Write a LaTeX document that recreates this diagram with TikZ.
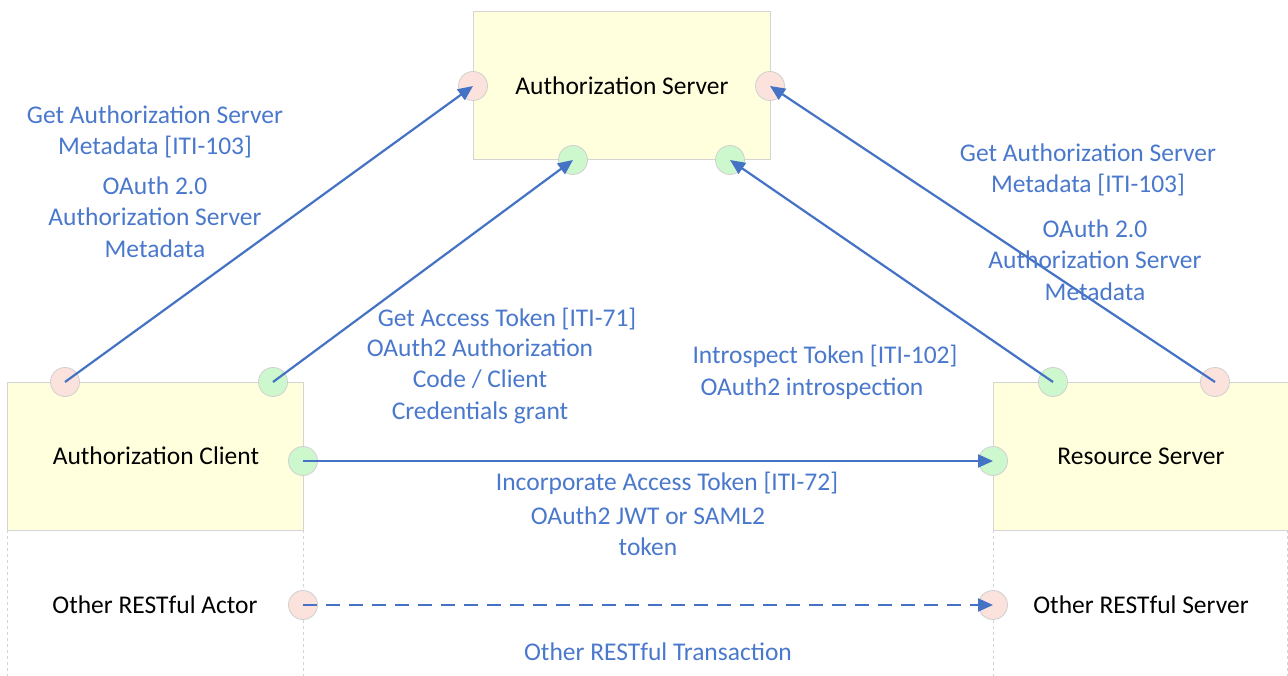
\documentclass[tikz,border=0pt]{standalone}
\usepackage{fontspec}
\setmainfont{Carlito}
\usetikzlibrary{arrows.meta}
\definecolor{boxfill}{HTML}{FFFFDD}
\definecolor{boxline}{HTML}{D4D4D4}
\definecolor{pinkport}{HTML}{FBE2DC}
\definecolor{greenport}{HTML}{CDF7CD}
\definecolor{portline}{HTML}{D0D0D0}
\definecolor{flow}{HTML}{4472C4}
\definecolor{labelblue}{HTML}{4A78CC}
\tikzset{
  actorbox/.style={draw=boxline, fill=boxfill, line width=1pt, inner sep=0pt},
  port/.style={circle, draw=portline, line width=0.8pt, minimum size=29pt, inner sep=0pt},
  pinkp/.style={port, fill=pinkport},
  greenp/.style={port, fill=greenport},
  flowarrow/.style={draw=flow, line width=2.2pt, -{Triangle[length=15pt,width=13pt]}},
  lbl/.style={text=labelblue, align=center, font=\fontsize{25.5}{31.5}\selectfont, inner sep=0pt},
  actorname/.style={text=black, align=center, font=\fontsize{25.5}{31.5}\selectfont, inner sep=0pt},
  lifeline/.style={draw=boxline, dashed, line width=0.8pt}
}
\begin{document}
\begin{tikzpicture}[x=1pt,y=-1pt]
\useasboundingbox (0,0) rectangle (1288,676);
% lifelines
\draw[lifeline] (7,530) -- (7,676);
\draw[lifeline] (303,530) -- (303,676);
\draw[lifeline] (993,530) -- (993,676);
\draw[lifeline] (1287,530) -- (1287,676);
% boxes
\draw[actorbox] (473,12) rectangle (770,160);
\draw[actorbox] (7,382) rectangle (303,530);
\draw[actorbox] (993,382) rectangle (1288,530);
\node[actorname] (as) at (622,86) {Authorization Server};
\node[actorname] (ac) at (156,456) {Authorization Client};
\node[actorname] (rs) at (1141,456) {Resource Server};
\node[actorname] (oa) at (155,605) {Other RESTful Actor};
\node[actorname] (os) at (1141,605) {Other RESTful Server};
% ports
\node[pinkp] (asL) at (473,86) {};
\node[pinkp] (asR) at (770,86) {};
\node[greenp] (asG1) at (573,160) {};
\node[greenp] (asG2) at (730,160) {};
\node[pinkp] (acP) at (65,382) {};
\node[greenp] (acG) at (273,382) {};
\node[greenp] (acR) at (303,461) {};
\node[greenp] (rsG) at (1053,382) {};
\node[pinkp] (rsP) at (1215,382) {};
\node[greenp] (rsL) at (993,461) {};
\node[pinkp] (oaP) at (303,605) {};
\node[pinkp] (osP) at (993,605) {};
% arrows
\draw[flowarrow] (acP.center) -- (asL.center);
\draw[flowarrow] (acG.center) -- (asG1.center);
\draw[flowarrow] (rsG.center) -- (asG2.center);
\draw[flowarrow] (rsP.center) -- (asR.center);
\draw[flowarrow] (acR.center) -- (rsL.center);
\draw[flowarrow, dash pattern=on 14pt off 9pt] (oaP.center) -- (osP.center);
% labels
\node[lbl] (l1a) at (155,132) {Get Authorization Server\\Metadata [ITI-103]};
\node[lbl] (l1b) at (155,217) {OAuth 2.0\\Authorization Server\\Metadata};
\node[lbl] (l2a) at (1088,170) {Get Authorization Server\\Metadata [ITI-103]};
\node[lbl] (l2b) at (1095,260) {OAuth 2.0\\Authorization Server\\Metadata};
\node[lbl] (l3a) at (507,319) {Get Access Token [ITI-71]};
\node[lbl] (l3b) at (480,381) {OAuth2 Authorization\\Code / Client\\Credentials grant};
\node[lbl] (l4a) at (825,356) {Introspect Token [ITI-102]};
\node[lbl] (l4b) at (812,389) {OAuth2 introspection};
\node[lbl] (l5a) at (667,483) {Incorporate Access Token [ITI-72]};
\node[lbl] (l5b) at (648,531) {OAuth2 JWT or SAML2\\token};
\node[lbl] (l6) at (658,652) {Other RESTful Transaction};
\end{tikzpicture}
\end{document}
